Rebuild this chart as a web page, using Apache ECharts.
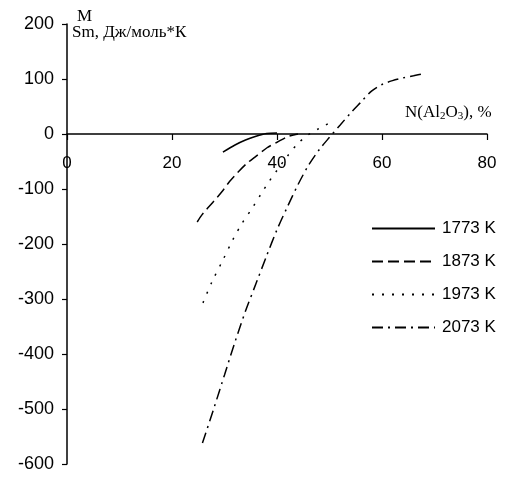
<!DOCTYPE html>
<html><head><meta charset="utf-8">
<script src="https://cdn.jsdelivr.net/npm/echarts@6/dist/echarts.min.js"></script>
<style>html,body{margin:0;padding:0;background:#fff}#c{width:515px;height:477px}</style>
</head><body><div id="c"></div>
<script>
const seriesNames = ['1773 K', '1873 K', '1973 K', '2073 K'];
const x1773 = [29.7, 32, 34, 36, 38, 40];
const y1773 = [-33, -20, -11, -4, 1, 2];
const x1873 = [24.8, 25.7, 27.8, 29.5, 31.0, 32.6, 34.3, 35.8, 38.1, 40, 42, 44];
const y1873 = [-160, -147, -124, -105, -86, -69, -53, -42, -25, -15, -5, 0];
const x1973 = [25.9, 27.6, 29.7, 31.6, 33.3, 35.4, 37.1, 38.3, 40, 42, 44, 46, 48, 50];
const y1973 = [-307, -269, -229, -192, -163, -133, -107, -89, -66, -40, -17, -1, 10, 20];
const x2073 = [25.8, 28, 30, 32, 34, 36, 38, 40, 42, 44, 46, 48, 50, 52, 54, 56, 58, 60, 62, 64, 66, 68];
const y2073 = [-562, -498, -438, -378, -322, -272, -222, -174, -132, -92, -57, -29, -6, 16, 38, 58, 78, 90, 97, 102, 106, 110];
const xTicks = [0, 20, 40, 60, 80];
const yTicks = [-600, -500, -400, -300, -200, -100, 0, 100, 200];

const zip = (xs, ys) => xs.map((x, i) => [x, ys[i]]);
const dashes = ['solid', [11, 5], [2, 8], [11, 5, 2, 5]];
const datas = [zip(x1773, y1773), zip(x1873, y1873), zip(x1973, y1973), zip(x2073, y2073)];
const tickFont = '"Liberation Sans", Arial, sans-serif';

const chart = echarts.init(document.getElementById('c'));
const gridTop = 24, gridBottom = 13, H = 477;
const plotH = H - gridTop - gridBottom;
const yMin = yTicks[0], yMax = yTicks[yTicks.length - 1];
const zeroFromBottom = plotH * (0 - yMin) / (yMax - yMin);
chart.setOption({
  animation: false,
  backgroundColor: '#fff',
  grid: { left: 67, right: 28, top: gridTop, bottom: gridBottom, containLabel: false, outerBoundsMode: 'none' },
  xAxis: {
    type: 'value', min: xTicks[0], max: xTicks[xTicks.length - 1], interval: 20,
    position: 'bottom', offset: -zeroFromBottom,
    axisLine: { onZero: false, lineStyle: { color: '#000', width: 1.5 } },
    axisTick: { show: true, inside: false, length: 6, lineStyle: { color: '#000', width: 1.2 } },
    axisLabel: { color: '#000', fontFamily: tickFont, fontSize: 17, margin: 21 },
    splitLine: { show: false }
  },
  yAxis: {
    type: 'value', min: yMin, max: yMax, interval: 100,
    axisLine: { show: true, onZero: false, lineStyle: { color: '#000', width: 1.5 } },
    axisTick: { show: true, length: 5, lineStyle: { color: '#000', width: 1.2 } },
    axisLabel: { color: '#000', fontFamily: tickFont, fontSize: 18, margin: 13 },
    splitLine: { show: false }
  },
  legend: {
    orient: 'vertical', left: 366, top: 215, itemWidth: 63, itemHeight: 14, itemGap: 16,
    itemStyle: { opacity: 0, color: 'rgba(0,0,0,0)', borderColor: 'rgba(0,0,0,0)', borderWidth: 0 },
    textStyle: { color: '#000', fontFamily: tickFont, fontSize: 17, padding: [0, 0, 0, 2] },
    data: seriesNames
  },
  graphic: [
    { type: 'text', left: 77, top: 8, style: { text: 'M', fill: '#000', font: '17px "Liberation Serif"' } },
    { type: 'text', left: 72, top: 24, style: { text: 'Sm, Дж/моль*К', fill: '#000', font: '17px "Liberation Serif"' } },
    { type: 'text', left: 405, top: 104, style: {
        text: '{a|N(Al}{s|2}{a|O}{s|3}{a|), %}',
        rich: {
          a: { fontFamily: 'Liberation Serif', fontSize: 17, fill: '#000', verticalAlign: 'bottom' },
          s: { fontFamily: 'Liberation Serif', fontSize: 11, fill: '#000', verticalAlign: 'bottom', padding: [0, 0, -1, 0] }
        } } }
  ],
  series: seriesNames.map((n, i) => ({
    name: n, type: 'line', data: datas[i], smooth: 0.3, symbol: 'none',
    lineStyle: { color: '#000', width: 1.5, type: dashes[i] },
    itemStyle: { color: '#000' }
  }))
});
</script></body></html>
